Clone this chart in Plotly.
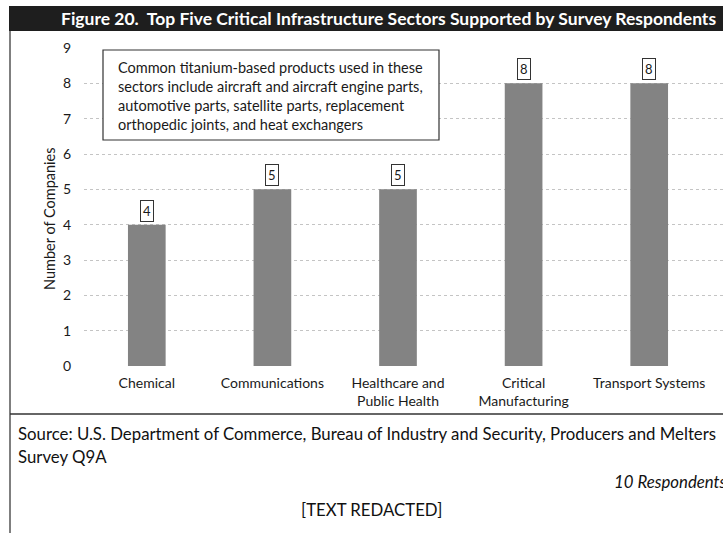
import plotly.graph_objects as go

# data
sectors = ['Chemical', 'Communications', 'Healthcare and<br>Public Health',
           'Critical<br>Manufacturing', 'Transport Systems']
companies = [4, 5, 5, 8, 8]
y_ticks = list(range(0, 10))

title_text = 'Figure 20.  Top Five Critical Infrastructure Sectors Supported by Survey Respondents'
note_text = ('Common titanium-based products used in these<br>'
             'sectors include aircraft and aircraft engine parts,<br>'
             'automotive parts, satellite parts, replacement<br>'
             'orthopedic joints, and heat exchangers')
source_line1 = 'Source: U.S. Department of Commerce, Bureau of Industry and Security, Producers and Melters'
source_line2 = 'Survey Q9A'
respondents = '10 Respondents'
redacted = '[TEXT REDACTED]'

FONT = 'Lato'
TXT = '#1a1a1a'
W, H = 723, 533
# plot area in pixels
PX0, PW = 84, 639
PY0, PH = 48, 318


def px(x):
    return (x - PX0) / PW


def py(y):
    return (PY0 + PH - y) / PH


fig = go.Figure()

fig.add_trace(go.Bar(
    x=list(range(len(sectors))),
    y=companies,
    marker=dict(color='#838383', line=dict(width=0)),
    width=0.3,
    hoverinfo='skip',
    showlegend=False,
))

annotations = []

# boxed value labels
for i, v in enumerate(companies):
    annotations.append(dict(
        x=i, y=v, xref='x', yref='y', text=str(v), showarrow=False,
        xanchor='center', yanchor='bottom', yshift=3,
        font=dict(family=FONT, size=13, color=TXT),
        bordercolor='#333', borderwidth=1, borderpad=2, bgcolor='white',
    ))

# note text (box drawn as shape)
annotations.append(dict(
    x=px(116), y=py(57), xref='paper', yref='paper', xanchor='left', yanchor='top',
    text=note_text, showarrow=False, align='left',
    font=dict(family=FONT, size=14.5, color=TXT),
))

# title
annotations.append(dict(
    x=px(388), y=py(18), xref='paper', yref='paper', xanchor='center', yanchor='middle',
    text='<b>' + title_text + '</b>',
    showarrow=False, font=dict(family=FONT, size=17.5, color='white'),
))

# y axis title
annotations.append(dict(
    x=px(49), y=py(219), xref='paper', yref='paper', xanchor='center', yanchor='middle',
    text='Number of Companies', textangle=-90, showarrow=False,
    font=dict(family=FONT, size=14.5, color=TXT),
))

# source and notes
src_font = dict(family=FONT, size=16.8, color='#111')
annotations += [
    dict(x=px(16), y=py(433), xref='paper', yref='paper', xanchor='left', yanchor='middle',
         text=source_line1, showarrow=False, font=src_font),
    dict(x=px(16), y=py(456), xref='paper', yref='paper', xanchor='left', yanchor='middle',
         text=source_line2, showarrow=False, font=src_font),
    dict(x=px(729), y=py(481), xref='paper', yref='paper', xanchor='right', yanchor='middle',
         text='<i>' + respondents + '</i>', showarrow=False, font=src_font),
    dict(x=px(371), y=py(509), xref='paper', yref='paper', xanchor='center', yanchor='middle',
         text=redacted, showarrow=False, font=src_font),
]

shapes = [
    # title bar
    dict(type='rect', xref='paper', yref='paper', x0=px(9), x1=px(723), y0=py(31), y1=py(6),
         fillcolor='#1e1e1e', line=dict(width=0), layer='below'),
    # note box
    dict(type='rect', xref='paper', yref='paper', x0=px(103), x1=px(439), y0=py(140), y1=py(50),
         fillcolor='white', line=dict(color='#333', width=1.2), layer='above'),
    # left border
    dict(type='line', xref='paper', yref='paper', x0=px(10), x1=px(10), y0=py(31), y1=py(533),
         line=dict(color='#555', width=1.5)),
    # separator above source
    dict(type='line', xref='paper', yref='paper', x0=px(10), x1=px(723), y0=py(414), y1=py(414),
         line=dict(color='#333', width=1.5)),
]

fig.update_layout(
    width=W, height=H,
    margin=dict(l=PX0, r=W - PX0 - PW, t=PY0, b=H - PY0 - PH),
    paper_bgcolor='white', plot_bgcolor='white',
    font=dict(family=FONT, color=TXT),
    xaxis=dict(
        range=[-0.5, 4.5 + 11 / 125.6],
        tickmode='array', tickvals=list(range(len(sectors))), ticktext=sectors,
        showgrid=False, showline=False, zeroline=False, ticks='',
        tickfont=dict(family=FONT, size=14, color=TXT),
        ticklabelstandoff=7,
    ),
    yaxis=dict(
        range=[0, 9], tickmode='array', tickvals=y_ticks,
        showgrid=True, gridcolor='#c4c4c4', griddash='dot', gridwidth=1,
        zeroline=False, showline=False, ticks='',
        tickfont=dict(family=FONT, size=14, color=TXT),
        ticklabelstandoff=12,
    ),
    annotations=annotations,
    shapes=shapes,
    bargap=0.7,
)

fig.write_html('out.html', config={'displayModeBar': False},
               post_script="document.body.style.margin='0';")
